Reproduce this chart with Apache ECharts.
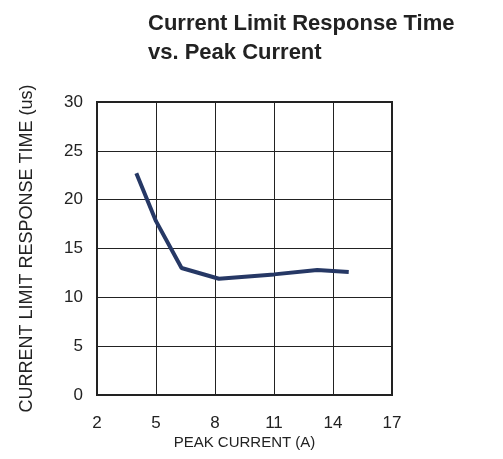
<!DOCTYPE html>
<html>
<head>
<meta charset="utf-8">
<script src="https://cdn.jsdelivr.net/npm/echarts@6/dist/echarts.min.js"></script>
<style>html,body{margin:0;padding:0;background:#fff;}#c{width:503px;height:459px;}</style>
</head>
<body>
<div id="c"></div>
<script>
const peakCurrent = [4.0, 5.0, 6.3, 8.2, 11.0, 13.2, 14.8];
const responseTime = [22.7, 17.8, 13.0, 11.9, 12.35, 12.8, 12.6];
const titleLines = ['Current Limit Response Time', 'vs. Peak Current'];
const xName = 'PEAK CURRENT (A)';
const yName = 'CURRENT LIMIT RESPONSE TIME (us)';

const font = 'Liberation Sans, Arial, sans-serif';
const chart = echarts.init(document.getElementById('c'), null, {renderer: 'canvas'});
chart.setOption({
  animation: false,
  backgroundColor: '#fff',
  title: {
    text: titleLines.join('\n'),
    left: 143,
    top: 4,
    textStyle: {fontFamily: font, fontSize: 22, fontWeight: 'bold', color: '#222', lineHeight: 29}
  },
  grid: {left: 97, right: 111, top: 102, bottom: 64, show: true, borderColor: '#222', borderWidth: 2, backgroundColor: 'transparent'},
  xAxis: {
    type: 'value', min: 2, max: 17, interval: 3,
    name: xName, nameLocation: 'middle', nameGap: 40, nameMoveOverlap: false,
    nameTextStyle: {fontFamily: font, fontSize: 15, color: '#222'},
    axisLine: {show: false},
    axisTick: {show: false},
    axisLabel: {fontFamily: font, fontSize: 17, color: '#222', margin: 20},
    splitLine: {show: true, lineStyle: {color: '#222', width: 1}}
  },
  yAxis: {
    type: 'value', min: 0, max: 30, interval: 5,
    name: yName, nameLocation: 'middle', nameGap: 61, nameRotate: 90, nameMoveOverlap: false,
    nameTextStyle: {fontFamily: font, fontSize: 18, color: '#222'},
    axisLine: {show: false},
    axisTick: {show: false},
    axisLabel: {fontFamily: font, fontSize: 17, color: '#222', margin: 14},
    splitLine: {show: true, lineStyle: {color: '#222', width: 1}}
  },
  series: [{
    type: 'line',
    data: peakCurrent.map((x, i) => [x, responseTime[i]]),
    showSymbol: false,
    smooth: false,
    lineStyle: {color: '#263865', width: 4},
    z: 5
  }]
});
</script>
</body>
</html>
